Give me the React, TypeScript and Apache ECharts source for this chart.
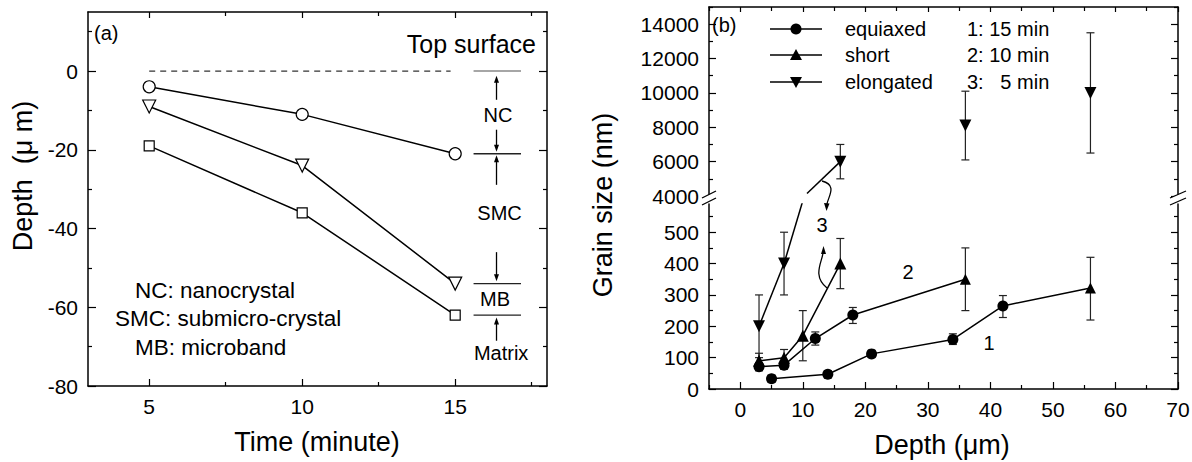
import React, { useEffect, useRef } from "react";
import * as echarts from "echarts";

const FONT = "'Liberation Sans', Arial, Helvetica, sans-serif";
const INK = "#000";

// ---------- Panel (a) data ----------
const timeMin = [5, 10, 15];
const ncDepth = [-4, -11, -21];
const smcDepth = [-9, -24, -54];
const mbDepth = [-19, -36, -62];
const topSurfaceLine = [[5, 0], [14.85, 0]];
const aXMajor = [5, 10, 15];
const aXMinor = [7.5, 12.5, 17.5];
const aYMajor = [-80, -60, -40, -20, 0];
const aYMinor = [-70, -50, -30, -10, 10];
const zoneBounds = [0, -21, -54, -62];
const zoneBoundX = [15.6, 17.15];
const zoneArrowX = 16.35;
const zoneArrows = [[-7.3, -1.2], [-14.9, -20.5], [-28.9, -21.4], [-46, -53.4], [-68.5, -62.6]];
const zoneLabels = ["NC", "SMC", "MB", "Matrix"];
const zoneLabelY = [-11.2, -36, -57.9, -71.6];
const zoneLabelX = [16.4, 16.45, 16.3, 16.5];
const aNotes = ["NC: nanocrystal", "SMC: submicro-crystal", "MB: microband"];

// ---------- Panel (b) data ----------
const bXMajor = [0, 10, 20, 30, 40, 50, 60, 70];
const bXMinor = [-5, 5, 15, 25, 35, 45, 55, 65];
const bLoMajor = [0, 100, 200, 300, 400, 500];
const bLoMinor = [50, 150, 250, 350, 450, 550];
const bUpMajor = [4000, 6000, 8000, 10000, 12000, 14000];
const bUpMinor = [5000, 7000, 9000, 11000, 13000, 15000];

// 15 min
const d15Depth = [5, 14, 21, 34, 42, 56];
const d15Size = [33, 47, 112, 158, 265, 322];
const d15Shape = ["circle", "circle", "circle", "circle", "circle", "triangle"];
const d15Err = [[22, 44], [36, 58], [102, 122], [142, 176], [228, 298], [220, 420]];
// 10 min
const d10Depth = [3, 7, 12, 18, 36];
const d10Size = [71, 76, 161, 236, 350];
const d10Shape = ["circle", "circle", "circle", "circle", "triangle"];
const d10Err = [[58, 84], [63, 90], [140, 182], [209, 260], [250, 450]];
// 5 min, short
const d5ShortDepth = [3, 7, 10, 16];
const d5ShortSize = [90, 100, 170, 400];
const d5ShortErr = [[66, 114], [76, 126], [90, 250], [320, 480]];
// 5 min, elongated (lower part)
const d5ElongDepth = [3, 7];
const d5ElongSize = [200, 400];
const d5ElongErr = [[100, 300], [300, 500]];
// elongated, upper part (5, 10, 15 min)
const elongUpDepth = [16, 36, 56];
const elongUpSize = [6000, 8100, 10000];
const elongUpErr = [[5000, 7000], [6100, 10100], [6500, 13500]];
// line of curve 3 across the axis break
const breakLinkLower = [[7, 400], [10.0, 600]];
const breakLinkUpper = [[10.67, 4150], [16, 6000]];

const legendNames = ["equiaxed", "short", "elongated"];
const legendTimes = ["1: 15 min", "2: 10 min", "3:   5 min"];

function axisPair(gridIndex: number, position: string, min: number, max: number,
  major: number[], minor: number[], labels: boolean, majorLen: number, minorLen: number, showLine = true) {
  return [
    {
      type: "value", gridIndex, position, min, max, scale: false,
      axisLine: { show: showLine, onZero: false, lineStyle: { color: INK, width: 1.5 } },
      axisTick: { show: true, inside: true, length: majorLen, customValues: major, lineStyle: { color: INK, width: 1.2 } },
      axisLabel: labels
        ? { show: true, customValues: major, fontSize: 21, color: INK, fontFamily: FONT, margin: 10,
            formatter: (v: number) => String(v) }
        : { show: false },
      splitLine: { show: false },
    },
    {
      type: "value", gridIndex, position, min, max, scale: false,
      axisLine: { show: false, onZero: false },
      axisTick: { show: true, inside: true, length: minorLen, customValues: minor, lineStyle: { color: INK, width: 1.2 } },
      axisLabel: { show: false },
      splitLine: { show: false },
    },
  ];
}

function errRender(params: any, api: any) {
  const x = api.value(0);
  const p1 = api.coord([x, api.value(1)]);
  const p2 = api.coord([x, api.value(2)]);
  const w = 4;
  const st = { stroke: "#222", lineWidth: 1.2 };
  return {
    type: "group",
    children: [
      { type: "line", shape: { x1: p1[0], y1: p1[1], x2: p2[0], y2: p2[1] }, style: st },
      { type: "line", shape: { x1: p1[0] - w, y1: p1[1], x2: p1[0] + w, y2: p1[1] }, style: st },
      { type: "line", shape: { x1: p2[0] - w, y1: p2[1], x2: p2[0] + w, y2: p2[1] }, style: st },
    ],
  };
}

export default function App() {
  const ref = useRef<HTMLDivElement>(null);
  useEffect(() => {
    const el = ref.current!;
    const chart = echarts.init(el, null, { renderer: "svg" });

    const xAxis = [
      ...axisPair(0, "bottom", 3, 18, aXMajor, aXMinor, true, 7, 4),
      ...axisPair(0, "top", 3, 18, aXMajor, aXMinor, false, 6, 4),
      ...axisPair(1, "top", -5, 70, bXMajor, bXMinor, false, 5, 4),
      ...axisPair(2, "bottom", -5, 70, bXMajor, bXMinor, true, 7, 4),
    ];
    const yAxis = [
      ...axisPair(0, "left", -80, 15, aYMajor, aYMinor, true, 8, 4),
      ...axisPair(0, "right", -80, 15, aYMajor, aYMinor, false, 8, 4),
      ...axisPair(1, "left", 4000, 15000, bUpMajor, bUpMinor, true, 7, 4),
      ...axisPair(1, "right", 4000, 15000, bUpMajor, bUpMinor, false, 7, 4),
      ...axisPair(2, "left", 0, 590, bLoMajor, bLoMinor, true, 7, 4),
      ...axisPair(2, "right", 0, 590, bLoMajor, bLoMinor, false, 7, 4),
    ];

    const hollow = { color: "#fff", borderColor: INK, borderWidth: 1.2, opacity: 1 };
    const solid = { color: INK, opacity: 1 };
    const lineSt = { color: INK, width: 1.5 };
    const toPts = (xs: number[], ys: number[]) => xs.map((x, i) => [x, ys[i]]);
    const toErr = (xs: number[], es: number[][]) => xs.map((x, i) => [x, es[i][0], es[i][1]]);

    const series: any[] = [
      // panel a
      { name: "top surface", type: "line", xAxisIndex: 0, yAxisIndex: 0, data: topSurfaceLine, symbol: "none",
        lineStyle: { color: "#333", width: 1.3, type: [6, 5] }, z: 2 },
      { name: "NC/SMC", type: "line", xAxisIndex: 0, yAxisIndex: 0, data: toPts(timeMin, ncDepth), symbol: "circle",
        symbolSize: 12, itemStyle: hollow, lineStyle: lineSt, z: 3 },
      { name: "SMC/MB", type: "line", xAxisIndex: 0, yAxisIndex: 0, data: toPts(timeMin, smcDepth), symbol: "triangle",
        symbolRotate: 180, symbolSize: 13, itemStyle: hollow, lineStyle: lineSt, z: 3 },
      { name: "MB/Matrix", type: "line", xAxisIndex: 0, yAxisIndex: 0, data: toPts(timeMin, mbDepth), symbol: "rect",
        symbolSize: 10, itemStyle: hollow, lineStyle: lineSt, z: 3 },
      // panel b lower
      { type: "custom", xAxisIndex: 6, yAxisIndex: 8, renderItem: errRender, encode: { x: 0, y: [1, 2] }, z: 1,
        data: [...toErr(d15Depth, d15Err), ...toErr(d10Depth, d10Err), ...toErr(d5ShortDepth, d5ShortErr), ...toErr(d5ElongDepth, d5ElongErr)] },
      { type: "custom", xAxisIndex: 4, yAxisIndex: 4, renderItem: errRender, encode: { x: 0, y: [1, 2] }, z: 1,
        data: toErr(elongUpDepth, elongUpErr) },
      { name: "15 min", type: "line", xAxisIndex: 6, yAxisIndex: 8, symbolSize: 11,
        data: d15Depth.map((x, i) => ({ value: [x, d15Size[i]], symbol: d15Shape[i] })),
        itemStyle: solid, lineStyle: lineSt, z: 3 },
      { name: "10 min", type: "line", xAxisIndex: 6, yAxisIndex: 8, symbolSize: 11,
        data: d10Depth.map((x, i) => ({ value: [x, d10Size[i]], symbol: d10Shape[i] })),
        itemStyle: solid, lineStyle: lineSt, z: 3 },
      { name: "5 min short", type: "line", xAxisIndex: 6, yAxisIndex: 8, symbol: "triangle", symbolSize: 12,
        data: toPts(d5ShortDepth, d5ShortSize), itemStyle: solid, lineStyle: lineSt, z: 3 },
      { name: "5 min elongated", type: "line", xAxisIndex: 6, yAxisIndex: 8, symbol: "triangle", symbolRotate: 180,
        symbolSize: 12, data: toPts(d5ElongDepth, d5ElongSize), itemStyle: solid, lineStyle: lineSt, z: 3 },
      { type: "line", xAxisIndex: 6, yAxisIndex: 8, symbol: "none", data: breakLinkLower, lineStyle: lineSt, clip: true, z: 2 },
      { type: "line", xAxisIndex: 4, yAxisIndex: 4, symbol: "none", data: breakLinkUpper, lineStyle: lineSt, clip: true, z: 2 },
      { name: "elongated", type: "scatter", xAxisIndex: 4, yAxisIndex: 4, symbol: "triangle", symbolRotate: 180,
        symbolSize: 12, data: toPts(elongUpDepth, elongUpSize), itemStyle: solid, z: 3 },
    ];

    chart.setOption({
      animation: false,
      backgroundColor: "#fff",
      textStyle: { fontFamily: FONT },
      grid: [
        { left: 88, top: 12, width: 459, height: 374, outerBoundsMode: "none" },
        { left: 709, top: 7, width: 469, height: 189, outerBoundsMode: "none" },
        { left: 709, top: 204, width: 469, height: 185, outerBoundsMode: "none" },
      ],
      xAxis, yAxis, series,
    });

    const pa = (x: number, y: number) => chart.convertToPixel({ xAxisIndex: 0, yAxisIndex: 0 } as any, [x, y]) as number[];
    const g: any[] = [];
    const txt = (text: string, x: number, y: number, size: number, align = "left", rot = 0) => ({
      type: "text", x, y, rotation: rot,
      style: { text, fill: INK, fontSize: size, fontFamily: FONT, textAlign: align, textVerticalAlign: "middle" },
      z: 10,
    });
    const seg = (x1: number, y1: number, x2: number, y2: number, color = INK, w = 1.3) => ({
      type: "line", shape: { x1, y1, x2, y2 }, style: { stroke: color, lineWidth: w }, z: 10,
    });
    const arrow = (x: number, y1: number, y2: number) => {
      const dir = y2 > y1 ? 1 : -1;
      return [
        seg(x, y1, x, y2 - dir * 5, INK, 1.3),
        { type: "polygon", shape: { points: [[x, y2], [x - 2.5, y2 - dir * 7], [x + 2.5, y2 - dir * 7]] },
          style: { fill: INK }, z: 10 },
      ];
    };

    // panel a annotations
    zoneBounds.forEach((v, i) => {
      const p1 = pa(zoneBoundX[0], v), p2 = pa(zoneBoundX[1], v);
      g.push(seg(p1[0], p1[1], p2[0], p2[1], i === 0 ? "#888" : "#222", 1.4));
    });
    zoneArrows.forEach(([a, b]) => {
      const p1 = pa(zoneArrowX, a), p2 = pa(zoneArrowX, b);
      g.push(...arrow(p1[0], p1[1], p2[1]));
    });
    zoneLabels.forEach((s, i) => {
      const p = pa(zoneLabelX[i], zoneLabelY[i]);
      g.push(txt(s, p[0], p[1], 20, "center"));
    });
    g.push(txt("Top surface", 536, 44, 25, "right"));
    g.push(txt("(a)", 94, 33, 20));
    const noteX = [135, 115, 135];
    const noteY = [290, 318, 347];
    aNotes.forEach((s, i) => g.push(txt(s, noteX[i], noteY[i], 22.5)));
    g.push(txt("Depth  (\u03bc m)", 23, 176, 27, "center", Math.PI / 2));
    g.push(txt("Time (minute)", 317, 442, 27, "center"));

    // panel b annotations
    g.push(txt("(b)", 712, 25, 20));
    g.push(txt("Grain size (nm)", 603, 205, 27, "center", Math.PI / 2));
    g.push(txt("Depth (\u03bcm)", 942, 445, 27, "center"));
    const legY = [29, 55, 82];
    legendNames.forEach((s, i) => {
      const y = legY[i];
      g.push(seg(770, y, 822, y, INK, 1.5));
      if (i === 0) g.push({ type: "circle", shape: { cx: 796, cy: y, r: 5.5 }, style: { fill: INK }, z: 11 });
      else if (i === 1) g.push({ type: "polygon", shape: { points: [[796, y - 6], [790, y + 5], [802, y + 5]] }, style: { fill: INK }, z: 11 });
      else g.push({ type: "polygon", shape: { points: [[796, y + 6], [790, y - 5], [802, y - 5]] }, style: { fill: INK }, z: 11 });
      g.push(txt(s, 845, y, 20));
      g.push(txt(legendTimes[i], 967, y, 20));
    });
    g.push(txt("3", 822, 225, 20, "center"));
    g.push(txt("2", 908, 272, 20, "center"));
    g.push(txt("1", 989, 343, 20, "center"));
    // curved arrows pointing at "3"
    g.push({ type: "bezierCurve", shape: { x1: 822, y1: 181, cpx1: 838, cpy1: 185, cpx2: 828, cpy2: 197, x2: 827, y2: 204 },
      style: { stroke: INK, lineWidth: 1.3, fill: "none" }, z: 10 });
    g.push({ type: "polygon", shape: { points: [[826.5, 211], [824, 203], [829.5, 203.5]] }, style: { fill: INK }, z: 10 });
    g.push({ type: "bezierCurve", shape: { x1: 827, y1: 288, cpx1: 812, cpy1: 276, cpx2: 822, cpy2: 262, x2: 823, y2: 253 },
      style: { stroke: INK, lineWidth: 1.3, fill: "none" }, z: 10 });
    g.push({ type: "polygon", shape: { points: [[823.5, 246], [821, 254], [826, 254]] }, style: { fill: INK }, z: 10 });
    // axis break marks
    [[702, 716], [1170, 1186]].forEach(([x1, x2]) => {
      g.push({ type: "polygon", shape: { points: [[x1, 198], [x2, 191], [x2, 199], [x1, 206]] }, style: { fill: "#fff" }, z: 9 });
      g.push(seg(x1, 198, x2, 191, INK, 1.3));
      g.push(seg(x1, 205, x2, 198, INK, 1.3));
    });

    chart.setOption({ graphic: g });
    return () => chart.dispose();
  }, []);
  return <div ref={ref} style={{ position: "fixed", left: 0, top: 0, width: 1192, height: 462, background: "#fff" }} />;
}
